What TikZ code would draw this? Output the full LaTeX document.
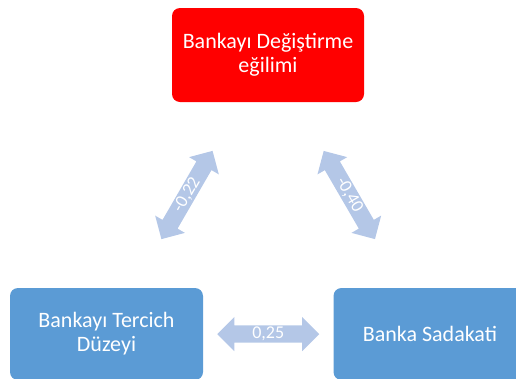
\documentclass[tikz,border=0pt]{standalone}
\usepackage{fontspec}
\setmainfont{Carlito}
\usetikzlibrary{shapes.arrows}
\definecolor{boxred}{HTML}{FF0000}
\definecolor{boxblue}{HTML}{5B9BD5}
\definecolor{linkblue}{HTML}{B4C7E7}
\tikzset{
  redbox/.style={rectangle, rounded corners=8pt, fill=boxred, text=white, align=center, minimum width=192pt, minimum height=94pt, font=\fontsize{22}{24}\selectfont},
  bluebox/.style={rectangle, rounded corners=8pt, fill=boxblue, text=white, align=center, minimum width=193pt, minimum height=92pt, font=\fontsize{22}{24}\selectfont},
  linkarrow/.style={double arrow, fill=linkblue, text=white, sloped, inner xsep=2pt, inner ysep=1.5pt, minimum height=102pt, minimum width=34pt, double arrow head extend=8.5pt, font=\fontsize{18}{20}\selectfont}
}

\begin{document}
\begin{tikzpicture}[x=1pt, y=-1pt]
  \useasboundingbox (0,0) rectangle (516,378);

  \node[redbox] (switch) at (268,55) {Bankayı Değiştirme\\eğilimi};
  \node[bluebox] (prefer) at (106.5,334) {Bankayı Tercich\\Düzeyi};
  \node[bluebox] (loyal) at (430,334) {Banka Sadakati};

  \path (prefer) -- node[linkarrow] {-0,22} (switch);
  \path (switch) -- node[linkarrow] {-0,40} (loyal);
  \path (prefer) -- node[linkarrow] {0,25} (loyal);
\end{tikzpicture}
\end{document}
